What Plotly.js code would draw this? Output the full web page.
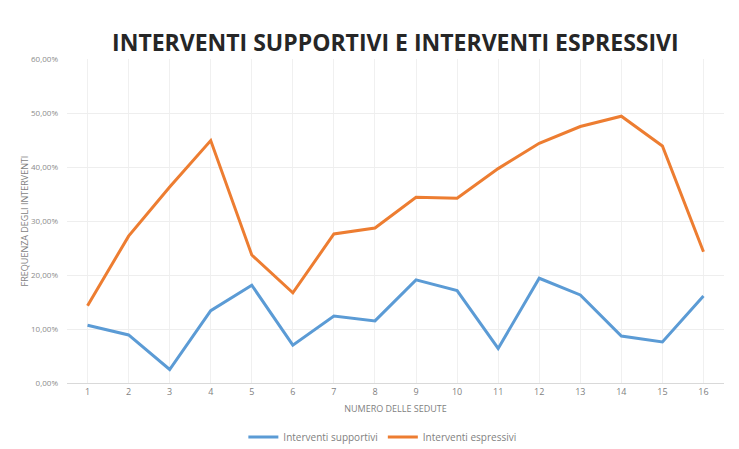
<!DOCTYPE html>
<html><head><meta charset="utf-8">
<script src="https://cdn.plot.ly/plotly-3.0.1.min.js"></script>
<style>html,body{margin:0;padding:0;background:#fff;}#chart{width:739px;height:449px;}</style>
</head><body><div id="chart"></div>
<script>
const sedute = ["1","2","3","4","5","6","7","8","9","10","11","12","13","14","15","16"];
const supportivi = [0.107,0.089,0.025,0.134,0.181,0.070,0.124,0.115,0.191,0.171,0.064,0.194,0.163,0.087,0.076,0.161];
const espressivi = [0.143,0.272,0.363,0.449,0.237,0.167,0.276,0.287,0.344,0.342,0.397,0.444,0.475,0.494,0.439,0.243];
const yTicks = [0,0.1,0.2,0.3,0.4,0.5,0.6];
const yTickText = ["0,00%","10,00%","20,00%","30,00%","40,00%","50,00%","60,00%"];

const traces = [
  {x: sedute, y: supportivi, type: 'scatter', mode: 'lines', name: 'Interventi supportivi',
   line: {color: '#5B9BD5', width: 3}},
  {x: sedute, y: espressivi, type: 'scatter', mode: 'lines', name: 'Interventi espressivi',
   line: {color: '#ED7D31', width: 3}}
];
const layout = {
  width: 739, height: 449,
  margin: {l: 67, r: 15, t: 59, b: 66},
  paper_bgcolor: '#fff', plot_bgcolor: '#fff',
  font: {family: 'Open Sans, Liberation Sans, sans-serif', color: '#7f7f7f', size: 9},
  title: {text: '<b>INTERVENTI SUPPORTIVI E INTERVENTI ESPRESSIVI</b>', x: 0.535, xanchor: 'center', y: 0.905, yanchor: 'middle',
          font: {family: 'Open Sans, sans-serif', size: 23, color: '#262626'}},
  xaxis: {type: 'category', range: [-0.5, 15.5], showgrid: true, gridcolor: '#f0f0f0', showline: true, linecolor: '#d9d9d9',
          ticks: '', tickfont: {size: 9, color: '#7f7f7f'}, zeroline: false, automargin: false,
          title: {text: 'NUMERO DELLE SEDUTE', font: {size: 9, color: '#7f7f7f'}, standoff: 8}},
  yaxis: {range: [0, 0.6], tickvals: yTicks, ticktext: yTickText, showgrid: true, gridcolor: '#eeeeee', automargin: false,
          zeroline: false, showline: false, ticks: '', tickfont: {size: 8, color: '#8c8c8c'}, ticklabelstandoff: 8,
          title: {text: 'FREQUENZA DEGLI INTERVENTI', font: {size: 9, color: '#7f7f7f'}, standoff: 0}},
  legend: {orientation: 'h', x: 0.48, xref: 'paper', xanchor: 'center', y: 0.027, yref: 'container', yanchor: 'middle',
           font: {size: 10, color: '#7f7f7f'}, tracegroupgap: 0, itemwidth: 30},
  showlegend: true
};
Plotly.newPlot('chart', traces, layout, {displayModeBar: false, staticPlot: true});
</script></body></html>
